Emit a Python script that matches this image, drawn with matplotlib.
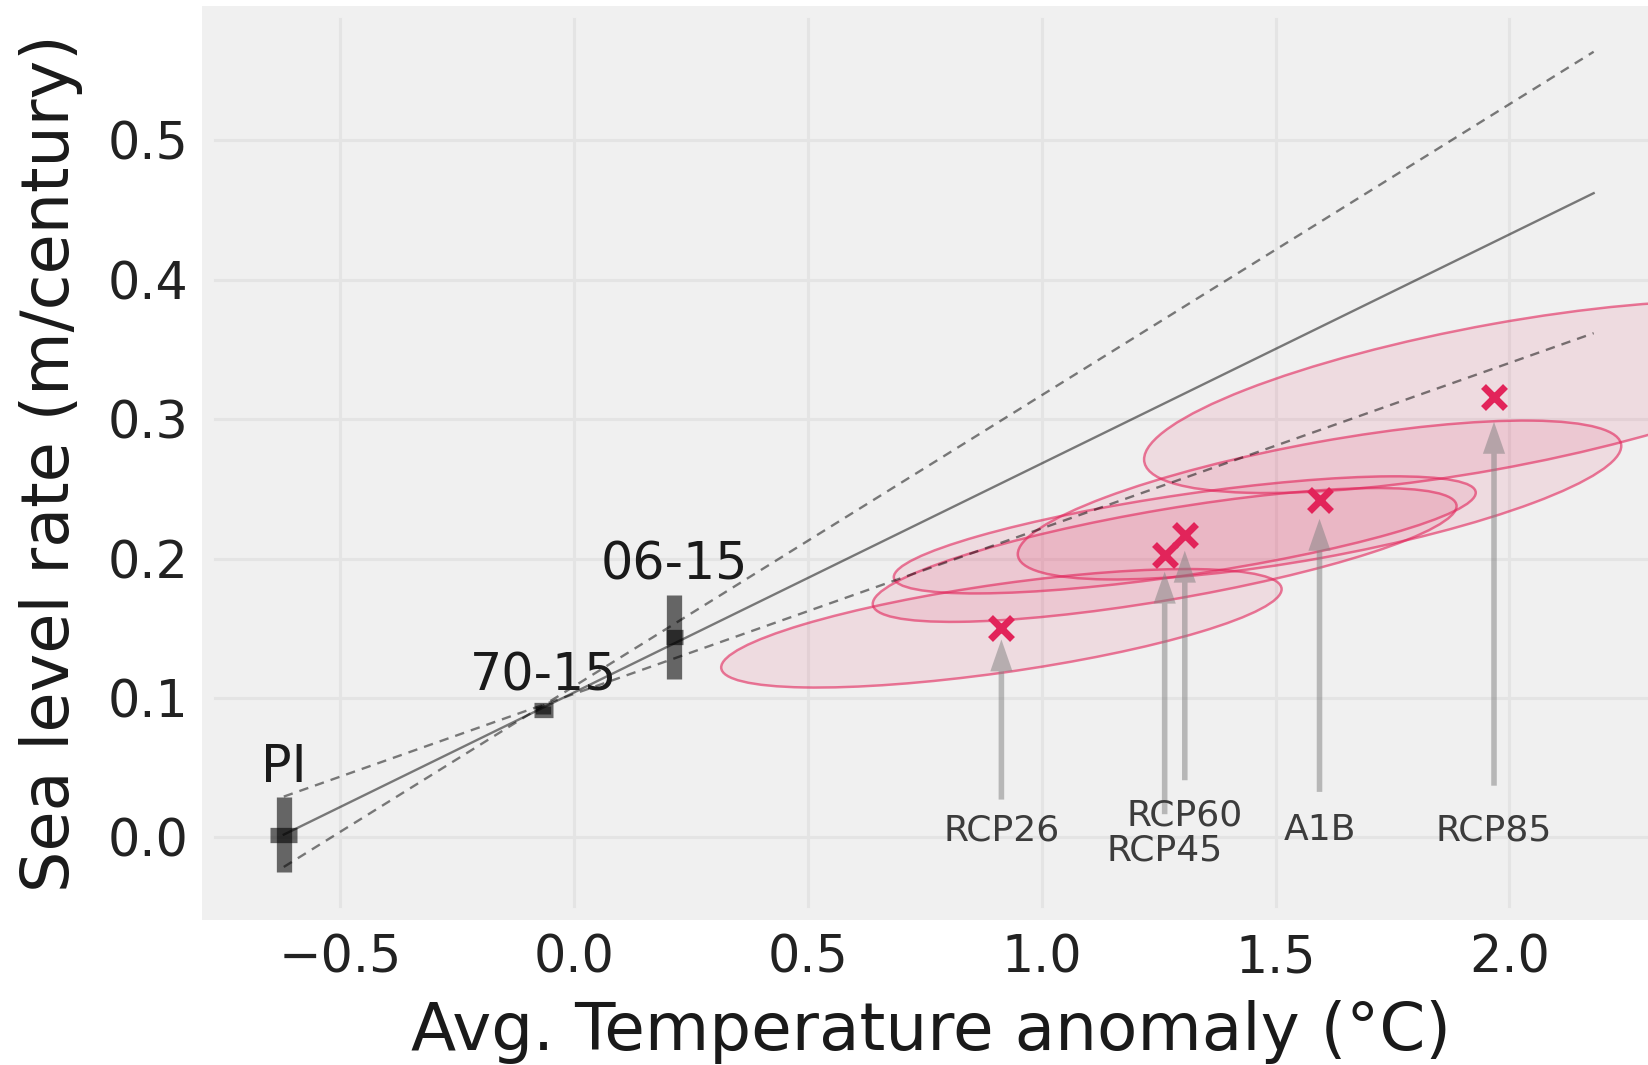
import numpy as np
import matplotlib
matplotlib.use('Agg')
import matplotlib.pyplot as plt
from matplotlib.patches import Ellipse

# ---------------- data ----------------
# observational periods
obs_labels = ['PI', '70-15', '06-15']
obs_T = [-0.62, -0.065, 0.215]
obs_T_err = [0.029, 0.02, 0.018]
obs_rate = [0.002, 0.0915, 0.1438]
obs_rate_err = [0.027, 0.003, 0.030]

# linear relations (rate = intercept + slope * T)
line_T = [-0.62, 2.18]
line_slope = [0.2088, 0.1643, 0.1187]
line_intercept = [0.1083, 0.1039, 0.1029]
line_kind = ['dashed', 'solid', 'dashed']

# scenarios
scen_names = ['RCP26', 'RCP45', 'RCP60', 'A1B', 'RCP85']
scen_T = [0.914, 1.263, 1.306, 1.594, 1.967]
scen_rate = [0.150, 0.2026, 0.217, 0.242, 0.316]
scen_T_spread = [0.599, 0.624, 0.622, 0.645, 0.748]
scen_rate_spread = [0.0425, 0.048, 0.042, 0.057, 0.069]
scen_corr = [0.66, 0.73, 0.72, 0.68, 0.65]
scen_label_rate = [0.005, -0.0095, 0.0155, 0.005, 0.005]

xlabel = 'Avg. Temperature anomaly (°C)'
ylabel = 'Sea level rate (m/century)'

# ---------------- style ----------------
W, H = 1649, 1065
fig = plt.figure(figsize=(W / 100, H / 100), dpi=100, facecolor='white')
ax = fig.add_axes([208 / W, 1 - 914 / H, (1654 - 208) / W, (914 - 12) / H])
ax.set_facecolor('#f0f0f0')
for sp in ax.spines.values():
    sp.set_color('#f0f0f0')
    sp.set_linewidth(8.6)
ax.set_axisbelow(True)
ax.grid(True, color='#e4e4e4', lw=2.2)
ax.tick_params(length=0, pad=14, labelsize=36.5, labelcolor='#222222')

ax.set_xlim(-0.782, 2.309)
ax.set_ylim(-0.0549, 0.592)

red = '#e2245a'

# ellipses
for cx, cy, a, b, r in zip(scen_T, scen_rate, scen_T_spread, scen_rate_spread, scen_corr):
    cov = np.array([[a * a, r * a * b], [r * a * b, b * b]])
    vals, vecs = np.linalg.eigh(cov)
    width = 2 * np.sqrt(vals[1])
    height = 2 * np.sqrt(vals[0])
    angle = np.degrees(np.arctan2(vecs[1, 1], vecs[0, 1]))
    e = Ellipse((cx, cy), width, height, angle=angle,
                facecolor=(0.886, 0.141, 0.353, 0.10),
                edgecolor=(0.886, 0.141, 0.353, 0.6), lw=1.8, zorder=1.5)
    ax.add_patch(e)

# lines
for s, b, k in zip(line_slope, line_intercept, line_kind):
    yy = [b + s * t for t in line_T]
    if k == 'solid':
        ax.plot(line_T, yy, color='k', alpha=0.5, lw=1.7, zorder=2)
    else:
        ax.plot(line_T, yy, color='k', alpha=0.5, lw=1.7, dashes=(4, 3), zorder=2)

# observations
ax.errorbar(obs_T, obs_rate, xerr=obs_T_err, yerr=obs_rate_err, fmt='none',
            ecolor='k', elinewidth=11, alpha=0.58, capsize=0, zorder=3)
for lab, t, r, re in zip(obs_labels, obs_T, obs_rate, obs_rate_err):
    ax.annotate(lab, (t, r + re), xytext=(0, 11), textcoords='offset points',
                ha='center', va='baseline', fontsize=36.5, color='#1a1a1a')

# scenario markers + annotations
ax.plot(scen_T, scen_rate, 'x', color=red, ms=16, mew=5, ls='none', zorder=4)
for name, t, r, ly in zip(scen_names, scen_T, scen_rate, scen_label_rate):
    ax.annotate(name, xy=(t, r), xytext=(t, ly), ha='center', va='center',
                fontsize=26, color='#3c3c3c',
                arrowprops=dict(facecolor='gray', edgecolor='none', alpha=0.5,
                                shrink=0.06, width=4, headwidth=16, headlength=23))

ax.set_xlabel(xlabel, fontsize=47.5, labelpad=12, color='#1a1a1a')
ax.set_ylabel(ylabel, fontsize=47, labelpad=18, color='#1a1a1a')

fig.savefig('out.png', dpi=100, facecolor='white')
